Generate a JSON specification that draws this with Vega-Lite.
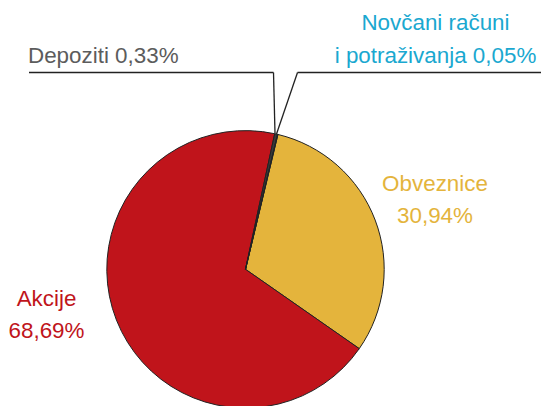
{
  "$schema": "https://vega.github.io/schema/vega-lite/v6.json",
  "width": 541,
  "height": 406,
  "autosize": {"type": "fit", "contains": "padding"},
  "padding": 0,
  "background": "white",
  "config": {"view": {"stroke": null}},
  "data": {
    "values": [
      {"kategorija": "Obveznice", "udio": 30.94, "red": 1, "oznaka": "Obveznice\n30,94%"},
      {"kategorija": "Akcije", "udio": 68.69, "red": 2, "oznaka": "Akcije\n68,69%"},
      {"kategorija": "Depoziti", "udio": 0.33, "red": 3, "oznaka": "Depoziti 0,33%"},
      {"kategorija": "Novčani računi i potraživanja", "udio": 0.05, "red": 4, "oznaka": "Novčani računi\ni potraživanja 0,05%"}
    ]
  },
  "layer": [
    {
      "mark": {"type": "arc", "x": 245.5, "y": 269.3, "outerRadius": 138.7, "stroke": "#222222", "strokeWidth": 1},
      "encoding": {
        "theta": {"field": "udio", "type": "quantitative", "stack": true, "scale": {"range": [0.236, 6.5192]}},
        "order": {"field": "red", "type": "quantitative"},
        "color": {
          "field": "kategorija", "type": "nominal", "legend": null,
          "scale": {
            "domain": ["Obveznice", "Akcije", "Depoziti", "Novčani računi i potraživanja"],
            "range": ["#E4B43C", "#C0141B", "#3a3a3a", "#1AA8D0"]
          }
        }
      }
    },
    {
      "transform": [{"filter": "datum.red == 1"}],
      "mark": {"type": "text", "x": 435, "y": 190.5, "align": "center", "baseline": "alphabetic", "font": "Liberation Sans", "fontSize": 22.4, "lineBreak": "\n", "lineHeight": 32.5, "color": "#E4B43C"},
      "encoding": {"text": {"field": "oznaka"}}
    },
    {
      "transform": [{"filter": "datum.red == 2"}],
      "mark": {"type": "text", "x": 46.5, "y": 305.5, "align": "center", "baseline": "alphabetic", "font": "Liberation Sans", "fontSize": 22.4, "lineBreak": "\n", "lineHeight": 32, "color": "#C0141B"},
      "encoding": {"text": {"field": "oznaka"}}
    },
    {
      "transform": [{"filter": "datum.red == 3"}],
      "mark": {"type": "text", "x": 28, "y": 63, "align": "left", "baseline": "alphabetic", "font": "Liberation Sans", "fontSize": 22.4, "color": "#5c5c5c"},
      "encoding": {"text": {"field": "oznaka"}}
    },
    {
      "transform": [{"filter": "datum.red == 4"}],
      "mark": {"type": "text", "x": 435.5, "y": 29.5, "align": "center", "baseline": "alphabetic", "font": "Liberation Sans", "fontSize": 22.4, "lineBreak": "\n", "lineHeight": 33.5, "color": "#1AA8D0"},
      "encoding": {"text": {"field": "oznaka"}}
    },
    {
      "transform": [{"filter": "datum.red == 3"}],
      "mark": {"type": "rule", "color": "#222222", "strokeWidth": 1.3},
      "encoding": {"x": {"value": 29}, "x2": {"value": 273.5}, "y": {"value": 72.5}, "y2": {"value": 72.5}}
    },
    {
      "transform": [{"filter": "datum.red == 3"}],
      "mark": {"type": "rule", "color": "#222222", "strokeWidth": 1.3},
      "encoding": {"x": {"value": 273.5}, "x2": {"value": 275}, "y": {"value": 72.5}, "y2": {"value": 133.5}}
    },
    {
      "transform": [{"filter": "datum.red == 4"}],
      "mark": {"type": "rule", "color": "#222222", "strokeWidth": 1.3},
      "encoding": {"x": {"value": 297.5}, "x2": {"value": 541}, "y": {"value": 72.5}, "y2": {"value": 72.5}}
    },
    {
      "transform": [{"filter": "datum.red == 4"}],
      "mark": {"type": "rule", "color": "#222222", "strokeWidth": 1.3},
      "encoding": {"x": {"value": 297.5}, "x2": {"value": 276.5}, "y": {"value": 72.5}, "y2": {"value": 134}}
    }
  ]
}
